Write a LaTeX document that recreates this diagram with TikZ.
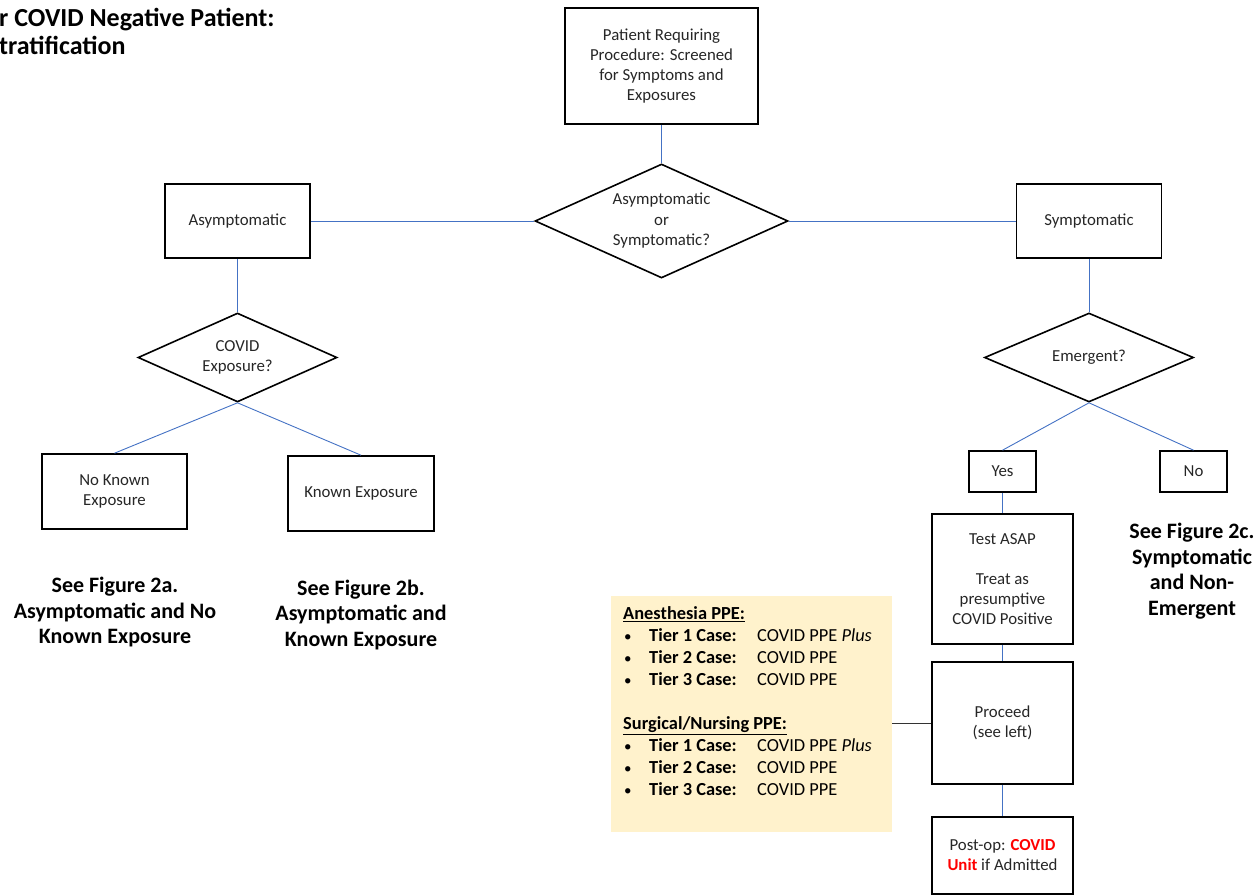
\documentclass[tikz,border=0pt]{standalone}
\usepackage{fontspec}
\setmainfont{Carlito}
\usetikzlibrary{shapes.geometric}
\definecolor{linkblue}{HTML}{4472C4}
\definecolor{ppefill}{HTML}{FFF2CC}
\definecolor{txt}{HTML}{262626}
\definecolor{alert}{HTML}{FF0000}
\newcommand{\ppebul}{\hspace{1pt}{\fontsize{15}{22}\selectfont\textbullet}}
\tikzset{
  box/.style={draw=black, line width=1.6pt, rectangle, inner sep=0pt, align=center,
    text=txt, font=\fontsize{16.8}{20}\selectfont},
  dec/.style={draw=black, line width=1.6pt, diamond, inner sep=0pt, align=center,
    text=txt, font=\fontsize{16.8}{20.5}\selectfont},
  conn/.style={draw=linkblue, line width=0.9pt},
  darkconn/.style={draw=black!80, line width=0.9pt},
  seefig/.style={align=center, text=black, inner sep=0pt,
    font=\fontsize{22}{25.5}\selectfont\bfseries},
}
\begin{document}
\begin{tikzpicture}[x=1pt,y=-1pt]
\useasboundingbox (0,0) rectangle (1260,896);

% title
\node[anchor=north west, align=left, inner sep=0pt, font=\fontsize{26}{28}\selectfont\bfseries] (title) at (-1,8.5)
  {r COVID Negative Patient:\\tratification};

% boxes
\node[box, minimum width=193pt, minimum height=116pt] (top) at (661.5,66)
  {Patient Requiring\\Procedure: Screened\\for Symptoms and\\Exposures};
\node[dec, aspect=2.22, minimum width=253pt, minimum height=114pt] (d1) at (661.5,221)
  {Asymptomatic\\or\\Symptomatic?};
\node[box, minimum width=145pt, minimum height=74pt] (asym) at (237.5,221) {Asymptomatic};
\node[box, minimum width=145pt, minimum height=74pt] (symp) at (1089,221) {Symptomatic};
\node[dec, aspect=2.24, minimum width=199pt, minimum height=89pt] (d2) at (237.5,357.5)
  {COVID\\Exposure?};
\node[dec, aspect=2.35, minimum width=209pt, minimum height=89pt] (d3) at (1089,357.5)
  {Emergent?};
\node[box, minimum width=145pt, minimum height=75pt] (nke) at (114.5,491.5) {No Known\\Exposure};
\node[box, minimum width=146pt, minimum height=75pt] (ke) at (361,493.5) {Known Exposure};
\node[box, minimum width=67pt, minimum height=41pt] (yes) at (1002.5,471.5) {Yes};
\node[box, minimum width=67pt, minimum height=41pt] (no) at (1193.5,471.5) {No};
\node[box, minimum width=141pt, minimum height=130pt] (test) at (1002.5,579)
  {Test ASAP\\[20pt]Treat as\\presumptive\\COVID Positive};
\node[box, minimum width=141pt, minimum height=122pt] (proc) at (1002.5,723)
  {Proceed\\(see left)};
\node[box, minimum width=141pt, minimum height=77pt] (post) at (1002.5,855.5)
  {Post-op: \textcolor{alert}{\textbf{COVID}}\\\textcolor{alert}{\textbf{Unit}} if Admitted};

% PPE panel
\node[fill=ppefill, draw=none, rectangle, inner sep=0pt, anchor=north west,
  minimum width=281pt, minimum height=236pt] (ppe) at (611,596) {};
\node[anchor=north west, inner sep=0pt, text=black, font=\fontsize{18.4}{22}\selectfont] (ppetext) at (623,603.6)
{\begin{tabular}{@{}p{26pt}@{}p{108pt}@{}l@{}}
\multicolumn{3}{@{}l@{}}{\underline{\textbf{Anesthesia PPE:}}}\\
\ppebul & \textbf{Tier 1 Case:} & COVID PPE \textit{Plus}\\
\ppebul & \textbf{Tier 2 Case:} & COVID PPE\\
\ppebul & \textbf{Tier 3 Case:} & COVID PPE\\
 & & \\
\multicolumn{3}{@{}l@{}}{\underline{\textbf{Surgical/Nursing PPE:}}}\\
\ppebul & \textbf{Tier 1 Case:} & COVID PPE \textit{Plus}\\
\ppebul & \textbf{Tier 2 Case:} & COVID PPE\\
\ppebul & \textbf{Tier 3 Case:} & COVID PPE
\end{tabular}};

% see figure notes
\node[seefig] (fa) at (115,612.5) {See Figure 2a.\\Asymptomatic and No\\Known Exposure};
\node[seefig] (fb) at (361,615) {See Figure 2b.\\Asymptomatic and\\Known Exposure};
\node[seefig] (fc) at (1192,571) {See Figure 2c.\\Symptomatic\\and Non-\\Emergent};

% connectors
\draw[conn] (top.south) -- (d1.north);
\draw[conn] (asym.east) -- (d1.west);
\draw[conn] (d1.east) -- (symp.west);
\draw[conn] (asym.south) -- (d2.north);
\draw[conn] (d2.south) -- (nke.north);
\draw[conn] (d2.south) -- (ke.north);
\draw[conn] (symp.south) -- (d3.north);
\draw[conn] (d3.south) -- (yes.north);
\draw[conn] (d3.south) -- (no.north);
\draw[conn] (yes.south) -- (test.north);
\draw[conn] (test.south) -- (proc.north);
\draw[conn] (proc.south) -- (post.north);
\draw[darkconn] (ppe.east |- proc.west) -- (proc.west);
\end{tikzpicture}
\end{document}
